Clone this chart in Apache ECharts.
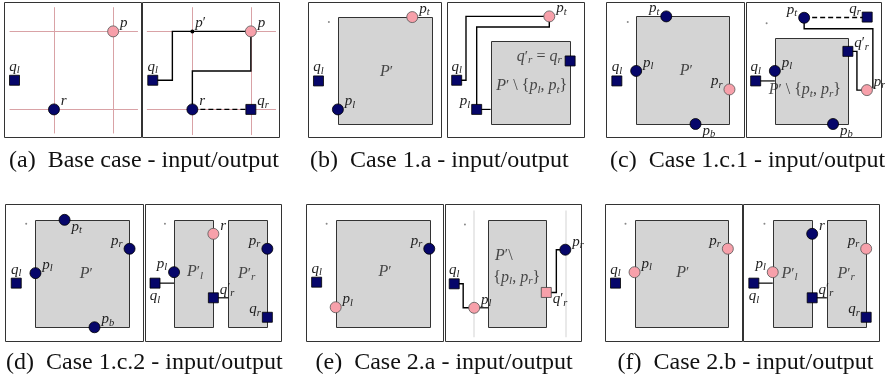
<!DOCTYPE html>
<html>
<head>
<meta charset="utf-8">
<script src="https://cdn.jsdelivr.net/npm/echarts@6/dist/echarts.min.js"></script>
<style>
html,body{margin:0;padding:0;background:#fff;}
#chart{width:885px;height:381px;}
</style>
</head>
<body>
<div id="chart"></div>
<script>
// ---------- DATA (panel-local coordinates, 0..100 in x and y, y upward) ----------
// point entries: [kind, x, y, label, labelAnchor]
// kinds: pc = pink circle, nc = navy circle, ns = navy square, ps = pink square, bd = black dot, gd = grey dot

const captions = [
  '(a)  Base case - input/output',
  '(b)  Case 1.a - input/output',
  '(c)  Case 1.c.1 - input/output',
  '(d)  Case 1.c.2 - input/output',
  '(e)  Case 2.a - input/output',
  '(f)  Case 2.b - input/output'
];

// (a) Base case
const aInPoints = [['pc', 79.3, 78.6, 'p', 'ne'], ['ns', 7.3, 42.4, 'q_l', 'n'], ['nc', 36.1, 20.8, 'r', 'ne']];
const aInGuides = [[36.1, 3, 36.1, 96.5], [79.3, 3, 79.3, 96.5], [3.7, 78.6, 97.4, 78.6], [3.7, 20.8, 97.4, 20.8]];
const aOutPoints = [['pc', 79.1, 78.6, 'p', 'ne'], ['bd', 36.4, 78.6, "p'", 'ne'], ['ns', 7.5, 42.4, 'q_l', 'n'],
  ['nc', 36.4, 20.8, 'r', 'ne'], ['ns', 79.1, 20.8, 'q_r', 'ne']];
const aOutGuides = [[36.4, 1.8, 36.4, 96.5], [79.1, 1.8, 79.1, 96.5], [3.2, 78.6, 97.4, 78.6], [3.2, 20.8, 97.4, 20.8]];
const aOutPaths = [
  ['solid', [[7.5, 42.4], [21.8, 42.4], [21.8, 78.6], [79.1, 78.6]]],
  ['solid', [[79.1, 78.6], [79.1, 49.3], [36.4, 49.3], [36.4, 20.8]]],
  ['dashed', [[36.4, 20.8], [79.1, 20.8]]]
];

// (b) Case 1.a
const bInRects = [[22.1, 10.0, 92.6, 89.2]];
const bInPoints = [['pc', 78.0, 89.2, 'p_t', 'ne'], ['ns', 7.5, 41.9, 'q_l', 'n'], ['nc', 22.1, 20.8, 'p_l', 'ne'], ['gd', 15.3, 85.5, '', '']];
const bInTexts = [[58.6, 48.6, "P'"]];
const bOutRects = [[31.5, 10.0, 88.9, 71.4]];
const bOutPoints = [['pc', 74.3, 89.7, 'p_t', 'ne'], ['ns', 6.7, 42.4, 'q_l', 'n'], ['ns', 21.3, 20.8, 'p_l', 'nw'], ['ns', 89.5, 56.7, '', '']];
const bOutPaths = [
  ['solid', [[6.7, 42.4], [13.5, 42.4], [13.5, 89.7], [74.3, 89.7]]],
  ['solid', [[21.3, 20.8], [21.3, 81.8], [74.3, 81.8], [74.3, 89.7]]],
  ['arrow', [[21.3, 20.8], [31.5, 20.8]]]
];
const bOutTexts = [[67.0, 59.6, "q'_r = q_r"], [61.5, 38.0, "P' \\ {p_l, p_t}"]];

// (c) Case 1.c.1
const cInRects = [[21.5, 10.0, 89.1, 89.7]];
const cInPoints = [['nc', 43.3, 89.7, 'p_t', 'nw'], ['nc', 21.5, 49.3, 'p_l', 'ne'], ['ns', 7.5, 41.9, 'q_l', 'n'],
  ['pc', 89.1, 35.6, 'p_r', 'nw'], ['nc', 64.5, 10.0, 'p_b', 'se'], ['gd', 15.4, 85.5, '', '']];
const cInTexts = [[57.8, 49.3, "P'"]];
const cOutRects = [[21.0, 10.0, 75.1, 73.9]];
const cOutPoints = [['nc', 42.7, 88.7, 'p_t', 'nw'], ['ns', 89.4, 89.2, 'q_r', 'nw'], ['ns', 75.1, 63.8, "q'_r", 'ne'],
  ['nc', 21.0, 49.3, 'p_l', 'ne'], ['ns', 6.8, 41.9, 'q_l', 'n'], ['pc', 89.2, 35.1, 'p_r', 'ne'],
  ['nc', 64.1, 10.0, 'p_b', 'se'], ['gd', 14.9, 84.7, '', '']];
const cOutPaths = [
  ['dashed', [[42.7, 88.9], [89.4, 88.9]]],
  ['solid', [[42.7, 88.7], [42.7, 80.6], [93.6, 80.6], [93.6, 36.5]]],
  ['solid', [[75.1, 63.8], [81.8, 63.8], [81.8, 35.1], [89.2, 35.1]]],
  ['arrow', [[6.8, 41.9], [21.0, 41.9]]]
];
const cOutTexts = [[43.2, 35.1, "P' \\ {p_t, p_r}"]];

// (d) Case 1.c.2
const dInRects = [[21.7, 10.4, 89.9, 88.8]];
const dInPoints = [['nc', 42.8, 88.8, 'p_t', 'se'], ['nc', 89.9, 67.7, 'p_r', 'nw'], ['nc', 21.7, 49.9, 'p_l', 'ne'],
  ['ns', 7.8, 42.6, 'q_l', 'n'], ['nc', 64.5, 10.4, 'p_b', 'ne'], ['gd', 15.0, 85.9, '', '']];
const dInTexts = [[58.5, 49.4, "P'"]];
const dOutRects = [[21.0, 10.4, 49.9, 88.8], [60.9, 10.4, 89.6, 88.8]];
const dOutPoints = [['pc', 49.9, 78.6, 'r', 'ne'], ['nc', 21.0, 50.6, 'p_l', 'nw'], ['ns', 7.0, 42.6, 'q_l', 's'],
  ['ns', 49.9, 31.9, "q'_r", 'ne'], ['nc', 89.6, 67.7, 'p_r', 'nw'], ['ns', 89.6, 17.7, 'q_r', 'nw'], ['gd', 14.3, 85.9, '', '']];
const dOutPaths = [['arrow', [[7.0, 42.6], [21.0, 42.6]]], ['arrow', [[49.9, 31.9], [60.9, 31.9]]]];
const dOutTexts = [[36.4, 50.6, "P'_l"], [74.4, 49.4, "P'_r"]];

// (e) Case 2.a
const eInRects = [[21.3, 10.9, 89.6, 88.8]];
const eInPoints = [['nc', 89.6, 67.7, 'p_r', 'nw'], ['ns', 7.4, 43.3, 'q_l', 'n'], ['pc', 21.3, 25.0, 'p_l', 'ne'], ['gd', 14.7, 85.9, '', '']];
const eInTexts = [[57.3, 50.6, "P'"]];
const eOutGuides = [[21.1, 3.1, 21.1, 95.6], [88.1, 3.1, 88.1, 95.6]];
const eOutRects = [[31.4, 10.9, 74.1, 88.8]];
const eOutPoints = [['ns', 6.4, 42.1, 'q_l', 'n'], ['pc', 21.1, 24.6, 'p_l', 'ne'], ['ps', 74.1, 35.8, "q'_r", 'se'],
  ['nc', 88.1, 67.0, 'p_r', 'ne'], ['gd', 14.3, 85.4, '', '']];
const eOutPaths = [
  ['solid', [[6.4, 42.1], [13.0, 42.1], [13.0, 24.6], [21.1, 24.6]]],
  ['arrow', [[21.1, 24.6], [31.4, 24.6]]],
  ['solid', [[74.1, 35.8], [81.5, 35.8], [81.5, 67.0], [88.1, 67.0]]]
];
const eOutTexts = [[42.9, 62.8, "P'\\"], [52.4, 46.5, "{p_l, p_r}"]];

// (f) Case 2.b
const fInRects = [[21.2, 10.9, 89.3, 88.8]];
const fInPoints = [['pc', 89.3, 67.7, 'p_r', 'nw'], ['pc', 21.2, 50.6, 'p_l', 'ne'], ['ns', 7.3, 42.6, 'q_l', 'n'], ['gd', 14.6, 85.9, '', '']];
const fInTexts = [[56.4, 49.9, "P'"]];
const fOutRects = [[21.5, 10.9, 50.5, 88.8], [61.3, 10.9, 90.2, 88.8]];
const fOutPoints = [['nc', 50.5, 78.6, 'r', 'ne'], ['pc', 21.5, 50.6, 'p_l', 'nw'], ['ns', 7.6, 42.6, 'q_l', 's'],
  ['ns', 50.5, 31.9, "q'_r", 'ne'], ['pc', 90.2, 67.7, 'p_r', 'nw'], ['ns', 90.2, 17.7, 'q_r', 'nw'], ['gd', 15.4, 85.9, '', '']];
const fOutPaths = [['arrow', [[7.6, 42.6], [21.5, 42.6]]], ['arrow', [[50.5, 31.9], [61.3, 31.9]]]];
const fOutTexts = [[33.8, 49.4, "P'_l"], [75.5, 49.4, "P'_r"]];

// ---------- LAYOUT / STYLE ----------
const panels = [
  {box: [4.5, 2.5, 137, 135], points: aInPoints, redGuides: aInGuides},
  {box: [142.5, 2.5, 137, 135], points: aOutPoints, redGuides: aOutGuides, paths: aOutPaths},
  {box: [308.5, 2.5, 133, 135], rects: bInRects, points: bInPoints, texts: bInTexts},
  {box: [447.5, 2.5, 137, 135], rects: bOutRects, points: bOutPoints, paths: bOutPaths, texts: bOutTexts},
  {box: [606.5, 2.5, 138, 135], rects: cInRects, points: cInPoints, texts: cInTexts},
  {box: [746.5, 2.5, 135, 135], rects: cOutRects, points: cOutPoints, paths: cOutPaths, texts: cOutTexts},
  {box: [5.5, 204.5, 138, 137], rects: dInRects, points: dInPoints, texts: dInTexts},
  {box: [145.5, 204.5, 136, 137], rects: dOutRects, points: dOutPoints, paths: dOutPaths, texts: dOutTexts},
  {box: [306.5, 204.5, 137, 137], rects: eInRects, points: eInPoints, texts: eInTexts},
  {box: [445.5, 204.5, 136, 137], rects: eOutRects, points: eOutPoints, paths: eOutPaths, texts: eOutTexts, greyGuides: eOutGuides},
  {box: [605.5, 204.5, 137, 137], rects: fInRects, points: fInPoints, texts: fInTexts},
  {box: [743.5, 204.5, 136, 137], rects: fOutRects, points: fOutPoints, paths: fOutPaths, texts: fOutTexts}
];
const captionPos = [[9, 149], [310, 149], [610, 149], [6, 351], [315.5, 351], [617.5, 351]];

const NAVY = '#06066a', PINK = '#f7a0aa';
const kindStyle = {
  pc: {symbol: 'circle', size: 11, itemStyle: {color: PINK, borderColor: '#555', borderWidth: 0.8, opacity: 1}},
  nc: {symbol: 'circle', size: 11, itemStyle: {color: NAVY, borderColor: '#000', borderWidth: 0.8, opacity: 1}},
  ns: {symbol: 'rect', size: 10, itemStyle: {color: NAVY, borderColor: '#000', borderWidth: 0.8, opacity: 1}},
  ps: {symbol: 'rect', size: 10, itemStyle: {color: PINK, borderColor: '#444', borderWidth: 0.8, opacity: 1}},
  bd: {symbol: 'circle', size: 4, itemStyle: {color: '#000', opacity: 1}},
  gd: {symbol: 'circle', size: 2, itemStyle: {color: '#888', opacity: 1}}
};
const anchorLabel = {
  ne: {position: 'right', distance: 1, offset: [0, -8]},
  nw: {position: 'left', distance: 1, offset: [0, -8]},
  n: {position: 'top', distance: 1, offset: [0, 2]},
  s: {position: 'bottom', distance: 1, offset: [0, -2]},
  se: {position: 'right', distance: 1, offset: [0, 7]}
};
const FONT = 'Liberation Serif';
function makeRich(size) {
  return {
    it: {fontFamily: FONT, fontStyle: 'italic', fontSize: size, color: '#222'},
    pr: {fontFamily: FONT, fontSize: size - 1, color: '#222'},
    sub: {fontFamily: FONT, fontStyle: 'italic', fontSize: size * 0.7, color: '#222', padding: [7, 0, 0, 0]}
  };
}
function mathRich(s) {
  let out = '';
  for (let i = 0; i < s.length; i++) {
    const c = s[i];
    if (/[A-Za-z]/.test(c)) out += '{it|' + c + '}';
    else if (c === "'") out += '{pr|\u2032}';
    else if (c === '_') { out += '{sub|' + s[i + 1] + '}'; i++; }
    else out += c;
  }
  return out;
}

const grid = [], xAxis = [], yAxis = [], series = [];
panels.forEach((p, i) => {
  grid.push({left: p.box[0], top: p.box[1], width: p.box[2], height: p.box[3], show: true,
    borderColor: '#333', borderWidth: 1, backgroundColor: '#fff', containLabel: false});
  xAxis.push({type: 'value', gridIndex: i, min: 0, max: 100, show: false});
  yAxis.push({type: 'value', gridIndex: i, min: 0, max: 100, show: false});
  const ax = {xAxisIndex: i, yAxisIndex: i};
  if (p.rects) series.push(Object.assign({
    type: 'custom', z: 1, silent: true, data: p.rects, encode: {x: [0, 2], y: [1, 3]},
    renderItem: (params, api) => {
      const a = api.coord([api.value(0), api.value(3)]);
      const b = api.coord([api.value(2), api.value(1)]);
      return {type: 'rect', shape: {x: Math.round(a[0]) + 0.5, y: Math.round(a[1]) + 0.5,
        width: Math.round(b[0] - a[0]), height: Math.round(b[1] - a[1])},
        style: {fill: '#d4d4d4', stroke: '#333', lineWidth: 1}};
    }
  }, ax));
  if (p.redGuides) series.push(Object.assign({
    type: 'lines', coordinateSystem: 'cartesian2d', z: 2, silent: true,
    data: p.redGuides.map(g => ({coords: [[g[0], g[1]], [g[2], g[3]]]})),
    lineStyle: {color: '#d9a2a6', width: 1, opacity: 1}
  }, ax));
  if (p.greyGuides) series.push(Object.assign({
    type: 'lines', coordinateSystem: 'cartesian2d', z: 2, silent: true,
    data: p.greyGuides.map(g => ({coords: [[g[0], g[1]], [g[2], g[3]]]})),
    lineStyle: {color: '#e2e2e2', width: 1.5, opacity: 1}
  }, ax));
  if (p.paths) {
    const plain = p.paths.filter(q => q[0] !== 'arrow');
    const arrows = p.paths.filter(q => q[0] === 'arrow');
    if (plain.length) series.push(Object.assign({
      type: 'lines', coordinateSystem: 'cartesian2d', polyline: true, z: 3, silent: true,
      data: plain.map(q => ({coords: q[1], lineStyle: {type: q[0] === 'dashed' ? [5, 3] : 'solid'}})),
      lineStyle: {color: '#000', width: 1.4, opacity: 1}
    }, ax));
    if (arrows.length) series.push(Object.assign({
      type: 'lines', coordinateSystem: 'cartesian2d', polyline: true, z: 3, silent: true,
      symbol: ['none', 'arrow'], symbolSize: 5,
      data: arrows.map(q => ({coords: q[1]})),
      lineStyle: {color: '#000', width: 1.2, opacity: 1}
    }, ax));
  }
  if (p.points) series.push(Object.assign({
    type: 'scatter', z: 5, silent: true,
    data: p.points.map(pt => {
      const k = kindStyle[pt[0]];
      const item = {value: [pt[1], pt[2]], name: pt[3], symbol: k.symbol, symbolSize: k.size, itemStyle: k.itemStyle};
      if (pt[3]) item.label = Object.assign({show: true}, anchorLabel[pt[4]]);
      else item.label = {show: false};
      return item;
    }),
    label: {show: true, formatter: prm => mathRich(prm.name), fontFamily: FONT, fontSize: 15, color: '#222', rich: makeRich(15)}
  }, ax));
  if (p.texts) series.push(Object.assign({
    type: 'scatter', z: 6, silent: true, symbolSize: 1, itemStyle: {color: 'rgba(0,0,0,0)'},
    data: p.texts.map(t => ({value: [t[0], t[1]], name: t[2]})),
    label: {show: true, position: 'inside', formatter: prm => mathRich(prm.name), fontFamily: FONT, fontSize: 16, color: '#222', rich: makeRich(16)}
  }, ax));
});

const title = captions.map((c, i) => ({
  text: c, left: captionPos[i][0], top: captionPos[i][1], padding: 0,
  textStyle: {fontFamily: FONT, fontSize: 24, fontWeight: 'normal', color: '#111'}
}));

const chart = echarts.init(document.getElementById('chart'), null, {renderer: 'canvas'});
chart.setOption({backgroundColor: '#fff', animation: false, title, grid, xAxis, yAxis, series});
</script>
</body>
</html>
